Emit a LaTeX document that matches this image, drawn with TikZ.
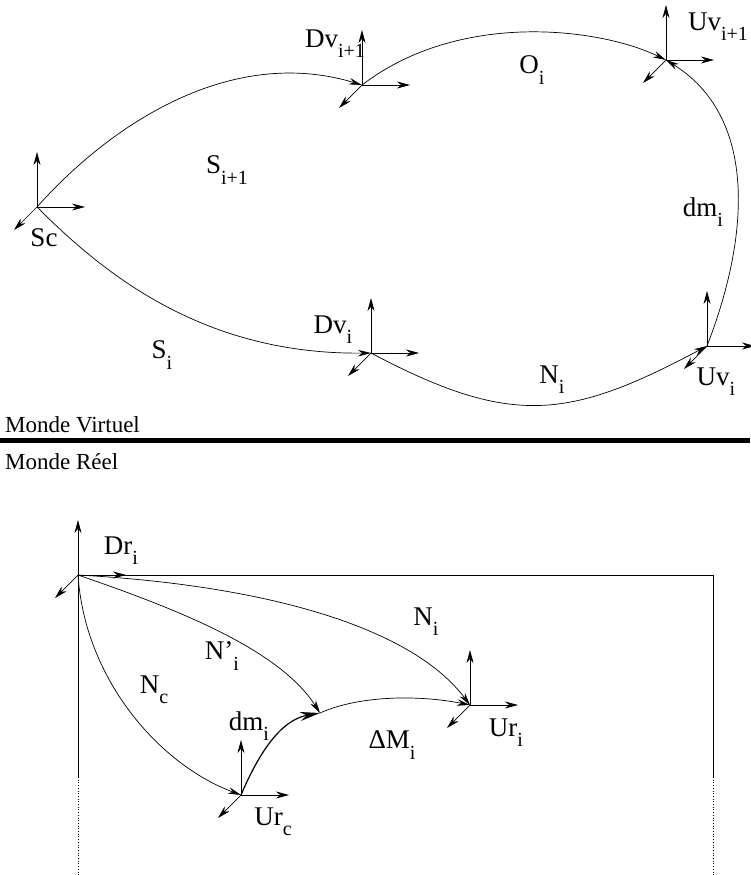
\documentclass[tikz,border=0pt]{standalone}
\usepackage{fontspec}
\setmainfont{Liberation Serif}
\usetikzlibrary{arrows.meta}

\newcommand{\indice}[1]{\raisebox{-0.38em}{\fontsize{20}{20}\selectfont #1}}

% repere : origine + trois axes
\newcommand{\repere}[2]{%
  \coordinate (#1) at (#2);
  \path (#1) ++(0,-55) coordinate (#1-z);
  \path (#1) ++(48,0) coordinate (#1-x);
  \path (#1) ++(-23,23) coordinate (#1-y);
  \draw[axe] (#1) -- (#1-z);
  \draw[axe] (#1) -- (#1-x);
  \draw[axe] (#1) -- (#1-y);
}

\tikzset{
  axe/.style={-{Stealth[length=13pt,width=7pt]}, line width=0.7pt},
  fleche/.style={-{Stealth[length=13pt,width=6.5pt]}, line width=0.7pt},
  grosse/.style={-{Stealth[length=20pt,width=9pt]}, line width=1.2pt},
  every node/.style={font=\fontsize{27}{27}\selectfont, inner sep=0pt}
}

\begin{document}
\begin{tikzpicture}[x=1pt,y=-1pt]
    \useasboundingbox (0,0) rectangle (750,875);

    % monde virtuel
    \repere{Sc}{37,207}
    \repere{Dv1}{362,85}
    \repere{Uv1}{666,60}
    \repere{Dv}{371,353}
    \repere{Uv}{707,346}

    \draw[fleche] (Sc) .. controls (110,125) and (230,45) .. (Dv1);
    \draw[fleche] (Dv1) .. controls (460,10) and (600,28) .. (Uv1);
    \draw[fleche] (Uv) .. controls (752,230) and (755,115) .. (Uv1);
    \draw[fleche] (Sc) .. controls (100,270) and (200,355) .. (Dv);
    \draw[fleche] (Dv) .. controls (511,427) and (568,420) .. (Uv);

    \node (lSi1) at (227,170) {S\indice{i+1}};
    \node (lDv1) at (335,44) {Dv\indice{i+1}};
    \node (lUv1) at (718,27) {Uv\indice{i+1}};
    \node (lOi) at (532,70) {O\indice{i}};
    \node (lSc) at (44,238) {Sc};
    \node (ldm) at (703,212) {dm\indice{i}};
    \node (lSi) at (162,355) {S\indice{i}};
    \node (lDv) at (333,330) {Dv\indice{i}};
    \node (lNi) at (552,380) {N\indice{i}};
    \node (lUv) at (716,382) {Uv\indice{i}};

    % separation
    \node[anchor=west, font=\fontsize{23}{23}\selectfont] (virt) at (5,425) {Monde Virtuel};
    \draw[line width=5pt] (0,440) -- (750,440);
    \node[anchor=west, font=\fontsize{23}{23}\selectfont] (reel) at (5,462) {Monde R\'eel};

    % monde reel
    \repere{Dr}{78,575}
    \repere{Uri}{470,705}
    \repere{Urc}{241,795}
    \coordinate (M) at (320,713);
    \coordinate (hd) at (713,575);
    \coordinate (bd) at (713,777);
    \coordinate (bg) at (78,777);
    \coordinate (fd) at (713,875);
    \coordinate (fg) at (78,875);

    \draw[line width=0.7pt] (Dr) -- (hd) -- (bd);
    \draw[line width=0.7pt] (Dr) -- (bg);
    \draw[dotted, line width=0.7pt] (bd) -- (fd);
    \draw[dotted, line width=0.7pt] (bg) -- (fg);

    \draw[fleche] (Dr) .. controls (260,585) and (410,625) .. (Uri);
    \draw[fleche] (Dr) .. controls (180,610) and (280,650) .. (M);
    \draw[fleche] (Dr) .. controls (85,680) and (160,765) .. (Urc);
    \draw[grosse] (Urc) .. controls (258,755) and (280,720) .. (M);
    \draw[fleche] (M) .. controls (360,695) and (420,695) .. (Uri);

    \node (lDr) at (121,551) {Dr\indice{i}};
    \node (lNi2) at (426,622) {N\indice{i}};
    \node (lNpi) at (222,656) {N'\indice{i}};
    \node (lNc) at (154,690) {N\indice{c}};
    \node (ldm2) at (249,726) {dm\indice{i}};
    \node (lDM) at (392,745) {ΔM\indice{i}};
    \node (lUri) at (506,733) {Ur\indice{i}};
    \node (lUrc) at (273,822) {Ur\indice{c}};
\end{tikzpicture}
\end{document}
